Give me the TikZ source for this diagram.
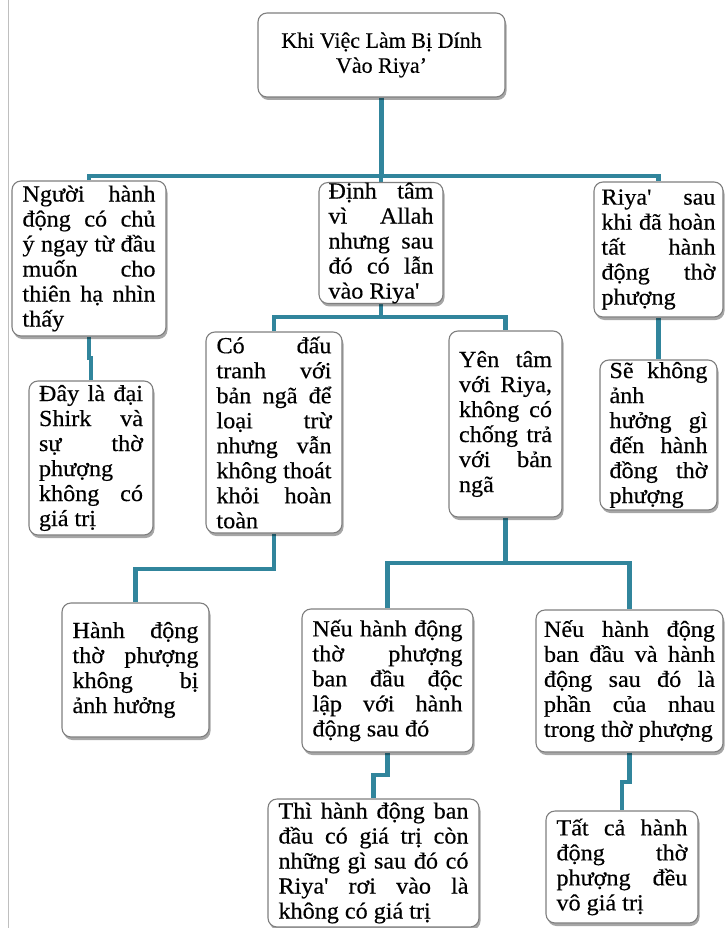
\documentclass[tikz,border=0pt]{standalone}
\usepackage{fontspec}
\setmainfont{Liberation Serif}[FakeBold=0.3]
\newfontfamily\bodyf{Liberation Serif}[FakeStretch=1.05,FakeBold=0.4]
\usetikzlibrary{shadows,backgrounds}
\definecolor{linec}{HTML}{31859C}
\definecolor{boxgray}{HTML}{7F7F7F}
\newlength\lw
\newcommand\J[1]{\makebox[\lw][s]{#1}}
\newcommand\Lf[1]{\makebox[\lw][l]{#1}}
\tikzset{
  box/.style={draw=boxgray, line width=1.1pt, rounded corners=9pt, fill=white,
    inner sep=0pt, align=left, font=\bodyf\fontsize{23}{25}\selectfont,
    drop shadow={shadow xshift=1.5pt, shadow yshift=-3pt, fill=black, opacity=0.35}},
  bw/.style={execute at begin node={\setlength\lw{#1}}},
  conn/.style={draw=linec, line width=4.5pt},
}
\begin{document}
\begin{tikzpicture}[x=1pt,y=-1pt]
\useasboundingbox (0,0) rectangle (724,928);
\draw[black!25, line width=1pt] (8.5,0) -- (8.5,928);

% nodes
\node[box, align=center, font=\fontsize{22}{25}\selectfont, minimum width=247pt, minimum height=84pt] (root) at (381.5,55) {Khi Việc Làm Bị Dính\\Vào Riya’};

\node[box, bw=133pt, minimum width=154pt, minimum height=155pt] (A) at (89,258.5)
 {\J{Người hành}\\\J{động có chủ}\\\J{ý ngay từ đầu}\\\J{muốn cho}\\\J{thiên hạ nhìn}\\\Lf{thấy}};
\node[box, bw=105pt, minimum width=124pt, minimum height=120pt] (B) at (381,243)
 {\J{Định tâm}\\\J{vì Allah}\\\J{nhưng sau}\\\J{đó có lẫn}\\\Lf{vào Riya'}};
\node[box, bw=114pt, minimum width=129pt, minimum height=135pt] (C) at (658.5,249.5)
 {\J{Riya' sau}\\\J{khi đã hoàn}\\\J{tất hành}\\\J{động thờ}\\\Lf{phượng}};

\node[box, bw=115pt, minimum width=136pt, minimum height=201pt] (D) at (274,432.5)
 {\J{Có đấu}\\\J{tranh với}\\\J{bản ngã để}\\\J{loại trừ}\\\J{nhưng vẫn}\\\J{không thoát}\\\J{khỏi hoàn}\\\Lf{toàn}};
\node[box, bw=93pt, minimum width=113pt, minimum height=186pt] (E) at (505.5,424)
 {\J{Yên tâm}\\\J{với Riya,}\\\J{không có}\\\J{chống trả}\\\J{với bản}\\\Lf{ngã}};
\node[box, bw=104pt, minimum width=124pt, minimum height=154pt] (F) at (91,458)
 {\J{Đây là đại}\\\J{Shirk và}\\\J{sự thờ}\\\Lf{phượng}\\\J{không có}\\\Lf{giá trị}};
\node[box, bw=98pt, minimum width=117pt, minimum height=150pt] (G) at (658.5,435)
 {\J{Sẽ không}\\\Lf{ảnh}\\\J{hưởng gì}\\\J{đến hành}\\\J{đồng thờ}\\\Lf{phượng}};

\node[box, bw=126pt, minimum width=147pt, minimum height=134pt] (H) at (135.5,670)
 {\J{Hành động}\\\J{thờ phượng}\\\J{không bị}\\\Lf{ảnh hưởng}};
\node[box, bw=150pt, minimum width=171pt, minimum height=143pt] (I) at (387.5,680.5)
 {\J{Nếu hành động}\\\J{thờ phượng}\\\J{ban đầu độc}\\\J{lập với hành}\\\Lf{động sau đó}};
\node[box, bw=171pt, minimum width=187pt, minimum height=142pt] (Jn) at (629.5,681)
 {\J{Nếu hành động}\\\J{ban đầu và hành}\\\J{động sau đó là}\\\J{phần của nhau}\\\Lf{trong thờ phượng}};

\node[box, bw=190pt, minimum width=211pt, minimum height=128pt] (K) at (373.5,863)
 {\J{Thì hành động ban}\\\J{đầu có giá trị còn}\\\J{những gì sau đó có}\\\J{Riya' rơi vào là}\\\Lf{không có giá trị}};
\node[box, bw=131pt, minimum width=152pt, minimum height=112pt] (L) at (622,867)
 {\J{Tất cả hành}\\\J{động thờ}\\\J{phượng đều}\\\Lf{vô giá trị}};

% connector coordinates
\coordinate (bar1) at (0,176);
\coordinate (bar2) at (0,317);
\coordinate (jA) at (89,358);
\coordinate (bar3) at (0,569);
\coordinate (bar4) at (0,563);
\coordinate (jI) at (387.5,775);
\coordinate (jJ) at (629.5,782);

% connectors
\begin{scope}[on background layer]
\draw[conn] (root.south) -- (root.south |- bar1);
\draw[conn] (A.north) -- (A.north |- bar1) -- (C.north |- bar1) -- (C.north);
\draw[conn] (B.north) -- (B.north |- bar1);
\draw[conn] (B.south) -- (B.south |- bar2);
\draw[conn] (D.north) -- (D.north |- bar2) -- (E.north |- bar2) -- (E.north);
\draw[conn] (A.south) -- (jA) -| (F.north);
\draw[conn] (C.south) -- (G.north);
\draw[conn] (D.south) -- (D.south |- bar3) -| (H.north);
\draw[conn] (E.south) -- (E.south |- bar4);
\draw[conn] (I.north) -- (I.north |- bar4) -- (Jn.north |- bar4) -- (Jn.north);
\draw[conn] (I.south) -- (jI) -| (K.north);
\draw[conn] (Jn.south) -- (jJ) -| (L.north);
\end{scope}
\end{tikzpicture}
\end{document}
